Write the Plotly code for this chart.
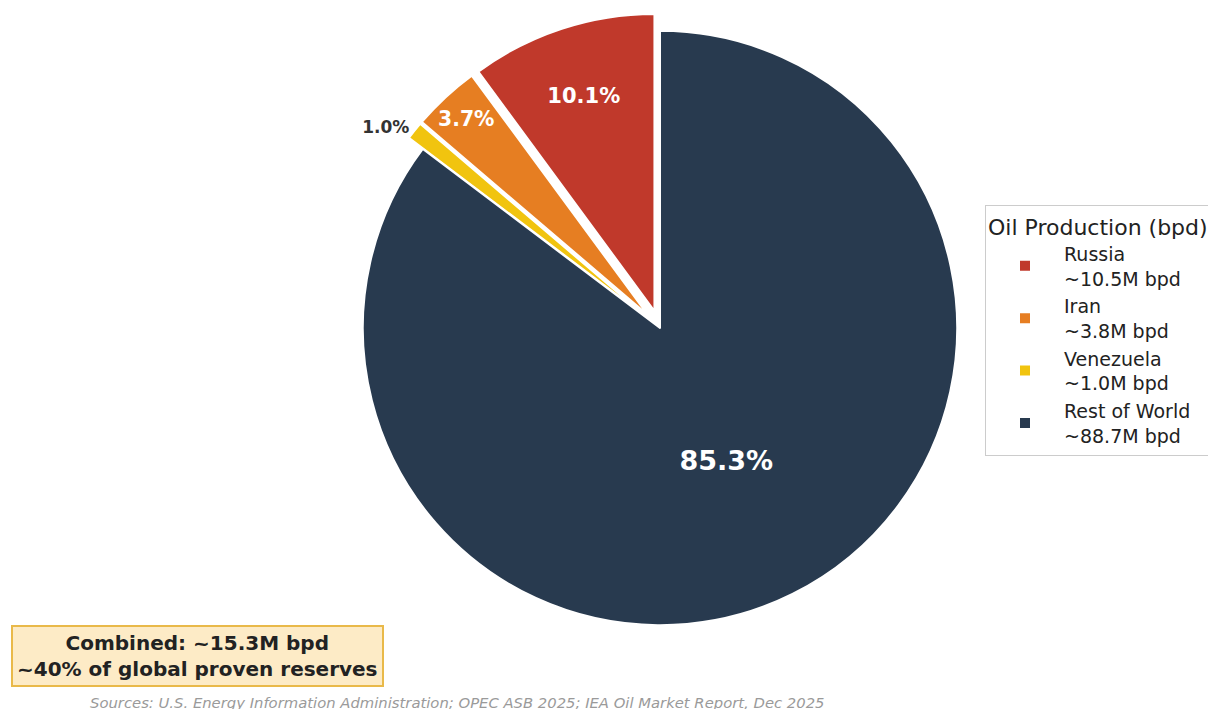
import plotly.graph_objects as go

countries = ["Russia", "Iran", "Venezuela", "Rest of World"]
production_mbpd = [10.5, 3.8, 1.0, 88.7]
legend_labels = ["Russia<br>~10.5M bpd", "Iran<br>~3.8M bpd", "Venezuela<br>~1.0M bpd", "Rest of World<br>~88.7M bpd"]
colors = ["#c0392b", "#e67e22", "#f1c40f", "#283a4f"]
pulls = [0.06, 0.06, 0.06, 0.0]
text_positions = ["inside", "inside", "outside", "inside"]
text_sizes = [21, 21, 17, 27]
text_colors = ["white", "white", "#333333", "white"]

W, H = 1216, 709

first_share = production_mbpd[0] / sum(production_mbpd)
rotation = -360 * first_share

fig = go.Figure(go.Pie(
    labels=legend_labels,
    values=production_mbpd,
    marker=dict(colors=colors, line=dict(color="white", width=2)),
    pull=pulls,
    sort=False,
    direction="counterclockwise",
    rotation=rotation,
    texttemplate="%{percent:.1%}",
    textposition=text_positions,
    insidetextorientation="horizontal",
    textfont=dict(family="DejaVu Sans", size=text_sizes, color=text_colors, weight="bold"),
    hoverinfo="label+percent",
    domain=dict(x=[337 / W, 967 / W], y=[1 - 635 / H, 1 - 5 / H]),
))

fig.update_layout(
    width=W, height=H,
    margin=dict(l=0, r=0, t=0, b=0, autoexpand=False),
    paper_bgcolor="white",
    plot_bgcolor="white",
    font=dict(family="DejaVu Sans", color="#222222"),
    legend=dict(
        title=dict(text="Oil Production (bpd)", font=dict(size=22, color="#222222")),
        font=dict(size=19, color="#222222"),
        x=977 / W, xanchor="left",
        y=1 - 197 / H, yanchor="top",
        bordercolor="#cccccc", borderwidth=1,
        bgcolor="white",
        itemsizing="constant",
        itemwidth=68,
    ),
    annotations=[
        dict(
            text="<b>Combined: ~15.3M bpd<br>~40% of global proven reserves</b>",
            xref="paper", yref="paper",
            x=189 / W, y=1 - 647.5 / H, xanchor="center", yanchor="middle",
            showarrow=False,
            font=dict(size=20, color="#222222", family="DejaVu Sans"),
            bgcolor="#fdebc6", bordercolor="#e9b949", borderwidth=2, borderpad=4,
            align="center",
        ),
        dict(
            text="<i>Sources: U.S. Energy Information Administration; OPEC ASB 2025; IEA Oil Market Report, Dec 2025</i>",
            xref="paper", yref="paper",
            x=449 / W, y=1 - 694 / H, xanchor="center", yanchor="middle",
            showarrow=False,
            font=dict(size=14.8, color="#9a9a9a", family="DejaVu Sans"),
        ),
    ],
)

fig.write_html("out.html")
